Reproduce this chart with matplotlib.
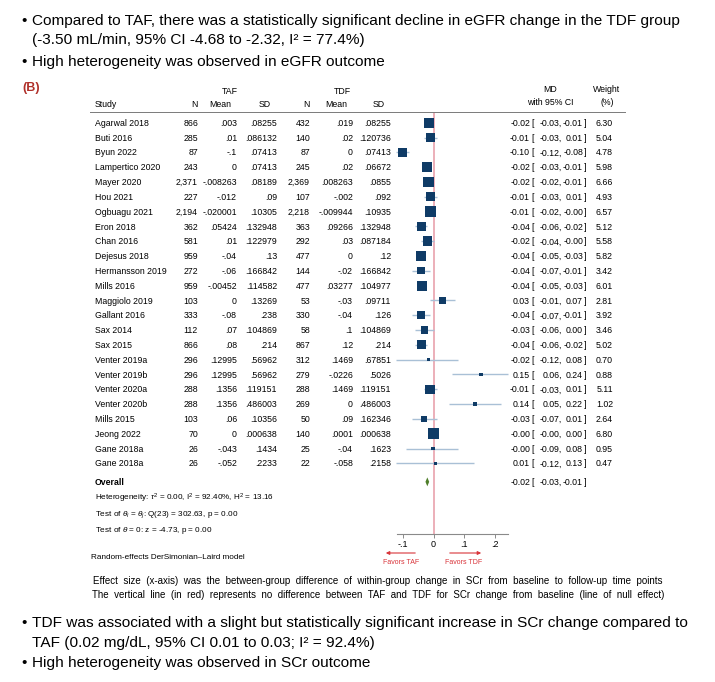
import matplotlib
matplotlib.use("Agg")
import matplotlib.pyplot as plt

plt.rcParams["font.family"] = ["Liberation Sans", "DejaVu Sans"]
plt.rcParams["mathtext.fontset"] = "custom"
plt.rcParams["mathtext.rm"] = "Liberation Sans"
plt.rcParams["mathtext.it"] = "Liberation Sans:italic"

# ── Data ────────────────────────────────────────────────────────────────────
studies = ["Agarwal 2018", "Buti 2016", "Byun 2022", "Lampertico 2020",
           "Mayer 2020", "Hou 2021", "Ogbuagu 2021", "Eron 2018", "Chan 2016",
           "Dejesus 2018", "Hermansson 2019", "Mills 2016", "Maggiolo 2019",
           "Gallant 2016", "Sax 2014", "Sax 2015", "Venter 2019a",
           "Venter 2019b", "Venter 2020a", "Venter 2020b", "Mills 2015",
           "Jeong 2022", "Gane 2018a", "Gane 2018a"]
taf_n = ["866", "285", "87", "243", "2,371", "227", "2,194", "362", "581",
         "959", "272", "959", "103", "333", "112", "866", "296", "296", "288",
         "288", "103", "70", "26", "26"]
taf_mean = [".003", ".01", "-.1", "0", "-.008263", "-.012", "-.020001",
            ".05424", ".01", "-.04", "-.06", "-.00452", "0", "-.08", ".07",
            ".08", ".12995", ".12995", ".1356", ".1356", ".06", "0", "-.043",
            "-.052"]
taf_sd = [".08255", ".086132", ".07413", ".07413", ".08189", ".09", ".10305",
          ".132948", ".122979", ".13", ".166842", ".114582", ".13269", ".238",
          ".104869", ".214", ".56962", ".56962", ".119151", ".486003",
          ".10356", ".000638", ".1434", ".2233"]
tdf_n = ["432", "140", "87", "245", "2,369", "107", "2,218", "363", "292",
         "477", "144", "477", "53", "330", "58", "867", "312", "279", "288",
         "269", "50", "140", "25", "22"]
tdf_mean = [".019", ".02", "0", ".02", ".008263", "-.002", "-.009944",
            ".09266", ".03", "0", "-.02", ".03277", "-.03", "-.04", ".1",
            ".12", ".1469", "-.0226", ".1469", "0", ".09", ".0001", "-.04",
            "-.058"]
tdf_sd = [".08255", ".120736", ".07413", ".06672", ".0855", ".092", ".10935",
          ".132948", ".087184", ".12", ".166842", ".104977", ".09711", ".126",
          ".104869", ".214", ".67851", ".5026", ".119151", ".486003",
          ".162346", ".000638", ".1623", ".2158"]
md = [-0.02, -0.01, -0.10, -0.02, -0.02, -0.01, -0.01, -0.04, -0.02, -0.04,
      -0.04, -0.04, 0.03, -0.04, -0.03, -0.04, -0.02, 0.15, -0.01, 0.14,
      -0.03, -0.0, -0.0, 0.01]
ci_lo = [-0.03, -0.03, -0.12, -0.03, -0.02, -0.03, -0.02, -0.06, -0.04, -0.05,
         -0.07, -0.05, -0.01, -0.07, -0.06, -0.06, -0.12, 0.06, -0.03, 0.05,
         -0.07, -0.0, -0.09, -0.12]
ci_hi = [-0.01, 0.01, -0.08, -0.01, -0.01, 0.01, -0.0, -0.02, -0.0, -0.03,
         -0.01, -0.03, 0.07, -0.01, 0.00, -0.02, 0.08, 0.24, 0.01, 0.22,
         0.01, 0.00, 0.08, 0.13]
weight = [6.30, 5.04, 4.78, 5.98, 6.66, 4.93, 6.57, 5.12, 5.58, 5.82, 3.42,
          6.01, 2.81, 3.92, 3.46, 5.02, 0.70, 0.88, 5.11, 1.02, 2.64, 6.80,
          0.95, 0.47]
overall = (-0.02, -0.03, -0.01)
xticks = [-0.1, 0, 0.1, 0.2]
xtick_labels = ["-.1", "0", ".1", ".2"]

# ── Layout (pixels) ─────────────────────────────────────────────────────────
W, H = 715, 682
ROW0, ROWH = 122.7, 14.81
ZERO_X, PX_PER_UNIT = 433.5, 309.0
PLOT_L, PLOT_R, PLOT_T, PLOT_B = 380, 520, 112, 534
OVERALL_ROW = 24.25

FS = 6.3
BFS = 11.1
NAVY = "#0f3b66"
CI_COL = "#a9c0d6"
NULL_COL = "#e9a2ad"
ARROW_COL = "#d9343a"


def row_y(i):
    return ROW0 + i * ROWH


fig = plt.figure(figsize=(W / 100, H / 100), dpi=100)

# forest panel: x in MD units, y in row units
fa = fig.add_axes([PLOT_L / W, 1 - PLOT_B / H,
                   (PLOT_R - PLOT_L) / W, (PLOT_B - PLOT_T) / H])
fa.set_xlim((PLOT_L - ZERO_X) / PX_PER_UNIT, (PLOT_R - ZERO_X) / PX_PER_UNIT)
fa.set_ylim((PLOT_B - ROW0) / ROWH, (PLOT_T - ROW0) / ROWH)
fa.patch.set_visible(False)
for s in ("top", "left", "right"):
    fa.spines[s].set_visible(False)
fa.spines["bottom"].set_color("#8a8a8a")
fa.spines["bottom"].set_linewidth(0.8)
fa.spines["bottom"].set_bounds((397 - ZERO_X) / PX_PER_UNIT,
                               (508 - ZERO_X) / PX_PER_UNIT)
fa.set_yticks([])
fa.set_xticks(xticks)
fa.set_xticklabels(xtick_labels)
fa.tick_params(axis="x", length=3, width=0.7, color="#8a8a8a",
               labelsize=6.5, pad=1.5)

fa.axvline(0, color=NULL_COL, lw=1.2, zorder=1)

rows = list(range(len(studies)))
centers = [float(a) - float(b) for a, b in zip(taf_mean, tdf_mean)]
fa.hlines(rows, ci_lo, ci_hi, color=CI_COL, lw=1.0, zorder=2)
fa.scatter(centers, rows, s=[8.3 * w for w in weight], marker="s",
           color=NAVY, linewidths=0, zorder=3)

o_md, o_lo, o_hi = overall
fa.fill([o_lo + 0.004, o_md, o_hi - 0.004, o_md],
        [OVERALL_ROW, OVERALL_ROW - 0.3, OVERALL_ROW, OVERALL_ROW + 0.3],
        color="#4f7f2a", lw=0, zorder=3)

# text overlay in pixel space
ax = fig.add_axes([0, 0, 1, 1])
ax.set_xlim(0, W)
ax.set_ylim(H, 0)
ax.axis("off")


def txt(x, y, s, size=FS, ha="left", **kw):
    # anchor on the baseline so commas/descenders don't shift the row
    ax.text(x, y + size * 0.5, s, fontsize=size, ha=ha, va="baseline", **kw)


# slide bullets (top)
txt(21, 19, "•", BFS)
txt(32, 19, "Compared to TAF, there was a statistically significant decline "
    "in eGFR change in the TDF group", BFS)
txt(32, 38, "(-3.50 mL/min, 95% CI -4.68 to -2.32, I² = 77.4%)", BFS)
txt(21, 60, "•", BFS)
txt(32, 60, "High heterogeneity was observed in eGFR outcome", BFS)

txt(22, 86, "(B)", 9, fontweight="bold", color="#b0302a")

# table headers
cols_r = [198, 237, 277, 310, 353, 391]
txt(230, 91, "TAF", FS, ha="center")
txt(342, 91, "TDF", FS, ha="center")
txt(95, 104, "Study")
for x, h in zip(cols_r, ["N", "Mean", "SD", "N", "Mean", "SD"]):
    txt(x - (0 if h == "N" else 6), 104, h, ha="right")
txt(550, 89, "MD", ha="center")
txt(550, 102, "with 95% CI", ha="center")
txt(607, 89, "Weight", ha="center")
txt(607, 102, "(%)", ha="center")
ax.plot([90, 625], [112, 112], color="#7a7a7a", lw=0.7)

for i, name in enumerate(studies):
    y = row_y(i)
    txt(95, y, name)
    for x, col in zip(cols_r, [taf_n, taf_mean, taf_sd, tdf_n, tdf_mean, tdf_sd]):
        txt(x, y, col[i], ha="right")
    txt(530, y, f"{md[i]:.2f}", ha="right")
    txt(531, y, "[")
    txt(562, y, f"{ci_lo[i]:.2f},", ha="right")
    txt(583, y, f"{ci_hi[i]:.2f}", ha="right")
    txt(583.5, y, "]")
    txt(613, y, f"{weight[i]:.2f}", ha="right")

y = row_y(OVERALL_ROW)
txt(95, y, "Overall", fontweight="bold")
txt(530, y, f"{o_md:.2f}", ha="right")
txt(531, y, "[")
txt(562, y, f"{o_lo:.2f},", ha="right")
txt(583, y, f"{o_hi:.2f}", ha="right")
txt(583.5, y, "]")

txt(95, 498, r"Heterogeneity: $\tau^2$ = 0.00, I$^2$ = 92.40%, H$^2$ = 13.16", 5.9)
txt(95, 513, r"Test of $\theta_i$ = $\theta_j$: Q(23) = 302.63, p = 0.00", 5.9)
txt(95, 529, r"Test of $\theta$ = 0: z = -4.73, p = 0.00", 5.9)
txt(91, 556, "Random-effects DerSimonian\u2013Laird model", 5.9)

# favours arrows
arrow = dict(arrowstyle="-|>", color=ARROW_COL, lw=0.8, mutation_scale=5)
ax.annotate("", xy=(383, 553), xytext=(418, 553), arrowprops=arrow)
ax.annotate("", xy=(484, 553), xytext=(447, 553), arrowprops=arrow)
txt(401, 562, "Favors TAF", 5, ha="center", color=ARROW_COL)
txt(464, 562, "Favors TDF", 5, ha="center", color=ARROW_COL)

# caption (the slide stretches it wide, so words are spaced out)
cap1 = ("Effect size (x-axis) was the between-group difference of "
        "within-group change in SCr from baseline to follow-up time points")
cap2 = ("The vertical line (in red) represents no difference between "
        "TAF and TDF for SCr change from baseline (line of null effect)")
txt(378, 580, cap1.replace(" ", "  "), 7.0, ha="center")
txt(378, 594, cap2.replace(" ", "  "), 7.0, ha="center")

# slide bullets (bottom)
txt(21, 621, "•", BFS)
txt(32, 621, "TDF was associated with a slight but statistically significant "
    "increase in SCr change compared to", BFS)
txt(32, 641, "TAF (0.02 mg/dL, 95% CI 0.01 to 0.03; I² = 92.4%)", BFS)
txt(21, 661, "•", BFS)
txt(32, 661, "High heterogeneity was observed in SCr outcome", BFS)

fig.savefig("out.png", dpi=100)
